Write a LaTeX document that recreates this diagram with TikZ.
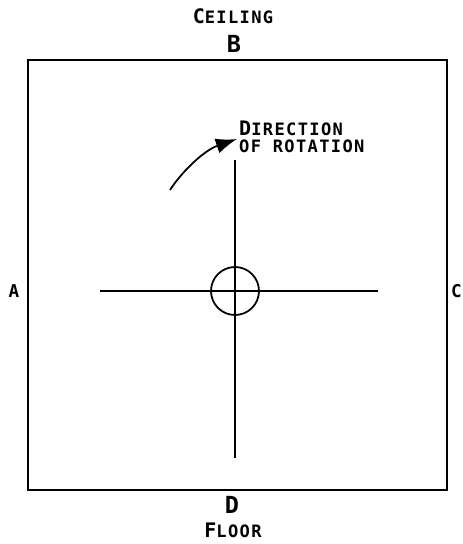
\documentclass[tikz,border=0pt]{standalone}
\usepackage{fontspec}
\newfontfamily\lblfont[LetterSpace=8]{DejaVu Sans Mono Bold}
\usetikzlibrary{arrows.meta}
% first letter large, the rest small (small caps look)
\newcommand{\bigsmall}[2]{{\fontsize{17}{17}\selectfont #1}{\fontsize{14.5}{14.5}\selectfont #2}}
\begin{document}
\begin{tikzpicture}[x=0.85pt, y=-0.85pt,
        lbl/.style={inner sep=0pt, font=\lblfont},
        side/.style={lbl, anchor=base, font=\lblfont\fontsize{15}{15}\selectfont},
        wall/.style={draw, line width=2.4pt},
        axis/.style={draw, line width=1.5pt}
    ]
        \useasboundingbox (0,0) rectangle (463,544);

        % Room
        \draw[wall] (28,60) rectangle (447,490);

        % Labels round the room
        \node[lbl, anchor=base] (ceil) at (233,23) {\bigsmall{C}{EILING}};
        \node[lbl, anchor=base, font=\lblfont\fontsize{20}{20}\selectfont] (b) at (234,52) {B};
        \node[lbl, anchor=base, font=\lblfont\fontsize{20}{20}\selectfont] (d) at (232,513) {D};
        \node[lbl, anchor=base] (floor) at (233,537) {\bigsmall{F}{LOOR}};
        \node[side] (a) at (14,297) {A};
        \node[side, anchor=base west] (c) at (451,297) {C};

        % Cross and hub
        \coordinate (hub) at (235,291);
        \draw[axis] (100,291) -- (378,291);
        \draw[axis] (235,160) -- (235,458);
        \draw[axis] (hub) circle (24);

        % Rotation
        \node[lbl, anchor=base west] (dir) at (239,135) {\bigsmall{D}{IRECTION}};
        \node[lbl, anchor=base west] (rot) at (239,152) {\fontsize{14.5}{14.5}\selectfont OF ROTATION};
        \coordinate (arrstart) at (170,190);
        \coordinate (arrend) at (237,139);
        \draw[line width=1.5pt, -{Latex[length=18pt,width=13pt]}] (arrstart) .. controls (183,170) and (205,150) .. (arrend);
    \end{tikzpicture}
\end{document}
